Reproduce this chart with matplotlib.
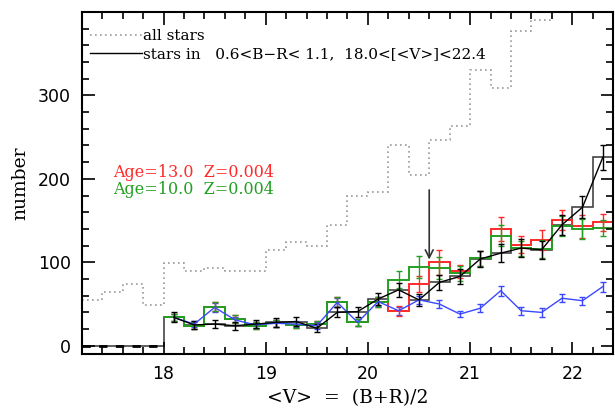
import matplotlib
matplotlib.use("Agg")
import matplotlib.pyplot as plt
from matplotlib.lines import Line2D
from matplotlib.ticker import MultipleLocator
import numpy as np

# ---------------------- Data ----------------------- #

# <V> bin centres (0.2 mag bins)
v_all = [17.3, 17.5, 17.7, 17.9, 18.1, 18.3, 18.5, 18.7, 18.9, 19.1, 19.3, 19.5, 19.7,
         19.9, 20.1, 20.3, 20.5, 20.7, 20.9, 21.1, 21.3, 21.5, 21.7, 21.9, 22.1, 22.3]
v_sel = [18.1, 18.3, 18.5, 18.7, 18.9, 19.1, 19.3, 19.5, 19.7, 19.9, 20.1,
         20.3, 20.5, 20.7, 20.9, 21.1, 21.3, 21.5, 21.7, 21.9, 22.1, 22.3]

# all stars
n_all = [55, 64, 74, 49, 99, 89, 93, 90, 89, 115, 124, 119, 145,
         179, 184, 241, 204, 247, 263, 330, 309, 377, 390, 420, 450, 480]

# stars in the colour cut (observed)
n_obs = [34, 25, 26, 24, 26, 28, 29, 21, 40, 41, 56,
         67, 55, 76, 83, 104, 111, 117, 115, 145, 166, 226]
e_obs = [6, 5, 5, 5, 5, 5, 5, 5, 6, 6, 7,
         8, 7, 9, 9, 10, 11, 11, 11, 12, 13, 15]

# model: Age=13.0 Z=0.004
n_13 = [34, 24, 47, 32, 24, 27, 25, 26, 52, 28, 53,
        42, 74, 100, 89, 105, 140, 121, 127, 151, 143, 148]
e_13 = [4, 4, 5, 5, 4, 4, 4, 4, 6, 4, 6,
        6, 10, 15, 8, 9, 14, 10, 12, 12, 14, 10]

# model: Age=10.0 Z=0.004
n_10 = [34, 24, 47, 32, 24, 27, 25, 26, 52, 28, 53,
        79, 94, 93, 87, 105, 132, 117, 116, 143, 140, 141]
e_10 = [4, 4, 5, 5, 4, 4, 4, 4, 6, 4, 6,
        10, 13, 13, 9, 9, 13, 9, 11, 12, 12, 10]

# blue curve
n_blue = [34, 26, 46, 31, 25, 27, 26, 24, 52, 28, 53,
          42, 55, 50, 38, 45, 66, 42, 40, 57, 54, 71]
e_blue = [4, 4, 5, 4, 4, 4, 4, 4, 5, 4, 5,
          5, 5, 5, 4, 5, 6, 5, 5, 5, 5, 6]

RED = '#ff2a2a'
GREEN = '#22a022'
BLUE = '#3a48ff'
SERIF = 'DejaVu Serif'


def edges(centres):
    c = np.asarray(centres)
    return np.append(c - 0.1, c[-1] + 0.1)


# ---------------------- Plot --------------------------- #

plt.rcParams['font.family'] = 'DejaVu Sans'
fig = plt.figure(figsize=(6.15, 4.08), dpi=100)
ax = fig.add_axes([0.133, 0.132, 0.864, 0.839])

ax.stairs(n_all, edges(v_all), baseline=None, color='#999999', linestyle=(0, (1, 2)), lw=1.2)

# observed histogram, zero below 18
zero_v = v_all[:4]
ax.stairs([0] * 4 + n_obs, edges(zero_v + v_sel), baseline=None, color='#444444', lw=1.2)
ax.plot([17.2, 18.0], [0, 0], color='black', lw=2, linestyle=(0, (3, 3)))

ax.stairs(n_13, edges(v_sel), baseline=None, color=RED, lw=1.4)
ax.stairs(n_10, edges(v_sel), baseline=None, color=GREEN, lw=1.4)

ax.errorbar(v_sel, n_blue, yerr=e_blue, color=BLUE, lw=1, capsize=2.5, capthick=1)
ax.errorbar(v_sel, n_13, yerr=e_13, fmt='none', ecolor=RED, elinewidth=1, capsize=2.5, capthick=1)
ax.errorbar(v_sel, n_10, yerr=e_10, fmt='none', ecolor=GREEN, elinewidth=1, capsize=2.5, capthick=1)
ax.errorbar(v_sel, n_obs, yerr=e_obs, color='black', lw=1, capsize=2.5, capthick=1)

# arrow marking V = 20.6
ax.annotate('', xy=(20.6, 100), xytext=(20.6, 190),
            arrowprops=dict(arrowstyle='->', color='#333333', lw=1.2, mutation_scale=14))

ax.text(17.51, 207, 'Age=13.0  Z=0.004', color=RED, fontsize=11.5, family=SERIF, va='center')
ax.text(17.51, 187, 'Age=10.0  Z=0.004', color=GREEN, fontsize=11.5, family=SERIF, va='center')

handles = [Line2D([], [], color='#999999', linestyle=(0, (1, 2)), lw=1.2),
           Line2D([], [], color='black', lw=1)]
labels = ['all stars', 'stars in   0.6<B\u2212R< 1.1,  18.0<[<V>]<22.4']
ax.legend(handles, labels, loc='upper left', bbox_to_anchor=(-0.01, 0.99), frameon=False,
          handlelength=3.4, handletextpad=0.05, labelspacing=0.3,
          prop={'family': SERIF, 'size': 11})

ax.set_xlim(17.2, 22.4)
ax.set_ylim(-10, 400)
ax.xaxis.set_major_locator(MultipleLocator(1))
ax.xaxis.set_minor_locator(MultipleLocator(0.2))
ax.set_yticks([0, 100, 200, 300])
ax.yaxis.set_minor_locator(MultipleLocator(20))
ax.tick_params(which='both', direction='in', top=True, right=True, width=1.2)
ax.tick_params(which='major', length=9, labelsize=12.5, pad=8)
ax.tick_params(which='minor', length=5)
for s in ax.spines.values():
    s.set_linewidth(1.5)

ax.set_xlabel('<V>  =  (B+R)/2', fontsize=13.5, family=SERIF, labelpad=4)
ax.set_ylabel('number', fontsize=13.5, family=SERIF, labelpad=6)

fig.savefig('out.png', dpi=100)
